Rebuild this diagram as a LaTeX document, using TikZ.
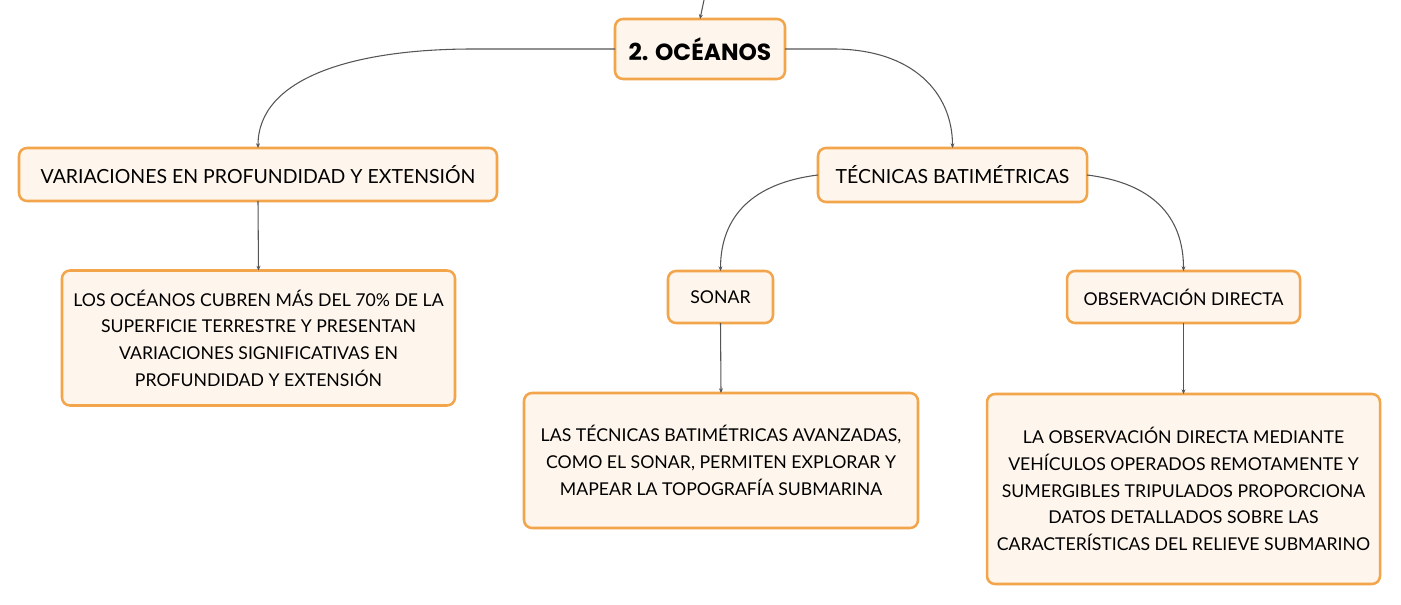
\documentclass[tikz,border=0pt]{standalone}
\usepackage{fontspec}
\setmainfont{Lato}
\newfontfamily\titlefont{Poppins}
\usetikzlibrary{arrows.meta}
\definecolor{boxfill}{HTML}{FEF5EC}
\definecolor{boxline}{HTML}{F2A54A}
\definecolor{linkcol}{HTML}{555555}
\tikzset{
  box/.style={draw=boxline, fill=boxfill, line width=1.9pt, rounded corners=6pt,
    inner sep=0pt, outer sep=0pt, align=center, text=black},
  lvl/.style={box, font=\fontsize{14.6}{20}\selectfont},
  para/.style={box, font=\fontsize{13.25}{20}\selectfont},
  titlebox/.style={box, font=\titlefont\bfseries\fontsize{17.5}{20}\selectfont},
  conn/.style={draw=linkcol, line width=0.8pt, -{Stealth[length=3.5pt,width=3pt]}}
}
\begin{document}
\begin{tikzpicture}[x=0.75pt,y=-0.75pt]
\useasboundingbox (0,0) rectangle (1401,605);
\node[titlebox, minimum width=127.5pt, minimum height=45pt] (top) at (700,49) {2. OCÉANOS};
\node[lvl, minimum width=358.5pt, minimum height=39.75pt] (var) at (258,174.5) {VARIACIONES EN PROFUNDIDAD Y EXTENSIÓN};
\node[para, minimum width=294.75pt, minimum height=101.25pt] (los) at (258.5,338) {LOS OCÉANOS CUBREN MÁS DEL 70\% DE LA\\SUPERFICIE TERRESTRE Y PRESENTAN\\VARIACIONES SIGNIFICATIVAS EN\\PROFUNDIDAD Y EXTENSIÓN};
\node[lvl, minimum width=201.75pt, minimum height=40.5pt] (tec) at (952.5,175) {TÉCNICAS BATIMÉTRICAS};
\node[para, minimum width=78.75pt, minimum height=39pt] (sonar) at (720.5,297) {SONAR};
\node[para, minimum width=295.5pt, minimum height=101.25pt] (las) at (721,460.5) {LAS TÉCNICAS BATIMÉTRICAS AVANZADAS,\\COMO EL SONAR, PERMITEN EXPLORAR Y\\MAPEAR LA TOPOGRAFÍA SUBMARINA};
\node[para, minimum width=174.75pt, minimum height=39pt] (obs) at (1183.5,297) {OBSERVACIÓN DIRECTA};
\node[para, minimum width=294.75pt, minimum height=142.5pt] (la) at (1183.5,489) {LA OBSERVACIÓN DIRECTA MEDIANTE\\VEHÍCULOS OPERADOS REMOTAMENTE Y\\SUMERGIBLES TRIPULADOS PROPORCIONA\\DATOS DETALLADOS SOBRE LAS\\CARACTERÍSTICAS DEL RELIEVE SUBMARINO};
\coordinate (in) at (704,0);
\draw[conn] (in) -- (top.north);
\draw[conn] (top.west) -- ++(-142,0) .. controls +(-120,0) and +(0,-70) .. (var.north);
\draw[conn] (top.east) -- ++(48,0) .. controls +(80,0) and +(0,-55) .. (tec.north);
\draw[conn] (var.south) -- (los.north);
\draw[conn] (tec.west) .. controls +(-65,8) and +(0,-55) .. (sonar.north);
\draw[conn] (tec.east) .. controls +(65,8) and +(0,-55) .. (obs.north);
\draw[conn] (sonar.south) -- (las.north);
\draw[conn] (obs.south) -- (la.north);
\end{tikzpicture}
\end{document}
